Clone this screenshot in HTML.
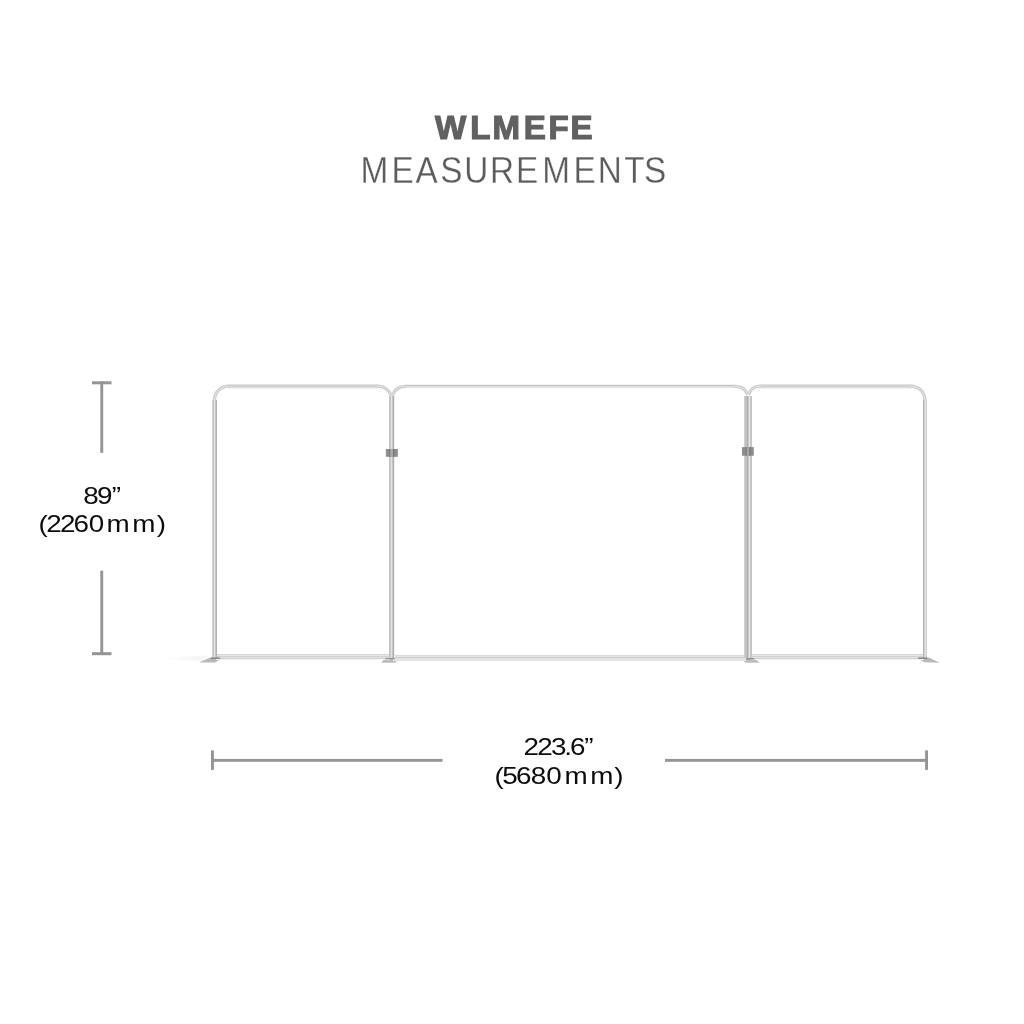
<!DOCTYPE html>
<html lang="en">
<head>
<meta charset="utf-8">
<title>WLMEFE Measurements</title>
<style>
  html, body { margin: 0; padding: 0; background: #ffffff; }
  body { width: 1024px; height: 1024px; overflow: hidden; position: relative; }
  svg { position: absolute; left: 0; top: 0; display: block; filter: grayscale(1); }
  .t { font-family: "Liberation Sans", sans-serif; }
</style>
</head>
<body>
<svg width="1024" height="1024" viewBox="0 0 1024 1024">
  <defs>
    <linearGradient id="shadowL" x1="0" y1="0" x2="1" y2="0">
      <stop offset="0" stop-color="#ffffff" stop-opacity="0"/>
      <stop offset="0.5" stop-color="#e9e9e9"/>
      <stop offset="1" stop-color="#dcdcdc"/>
    </linearGradient>
  </defs>
  <rect width="1024" height="1024" fill="#ffffff"/>

  <!-- TITLE -->
  <text class="t" id="t1" transform="scale(0.9939,1)" x="437.71 473.18 495.44 526.92 551.76 573.95" y="139.00" font-size="33.29" font-weight="700" fill="#616161" stroke="#616161" stroke-width="1.2" stroke-linejoin="miter">WLMEFE</text>
  <text class="t" id="t2" transform="scale(0.8956,1)" x="402.45 437.16 463.82 491.58 518.40 547.16 576.04 605.34 640.36 667.41 696.96 719.09" y="182.85" font-size="37.21" font-weight="400" fill="#5c5c5c" stroke="#ffffff" stroke-width="0.3">MEASUREMENTS</text>

  <!-- FRAMES -->
  <g id="frames" fill="none">
    <!-- soft floor shadow -->
    <path d="M158 657.5 L207 655.5 L204 661 L170 659.5 Z" fill="url(#shadowL)" opacity="0.3"/>
    <!-- feet -->
    <path d="M199 662.6 L210.8 657.2 L220.4 657.2 L220.4 659.4 L215 662.6 Z" fill="#b8b8b8"/>
    <path d="M381.3 662.8 L385 657.8 L398 657.8 L398 660.2 L395 662.8 Z" fill="#bcbcbc"/>
    <path d="M741.5 658 L754.8 658 L759.2 662.8 L745.2 662.8 Z" fill="#bcbcbc"/>
    <path d="M917.6 657.5 L928.8 657.5 L939.8 662.8 L924 662.3 Z" fill="#b8b8b8"/>
    <!-- horizontal bars -->
    <g shape-rendering="crispEdges">
      <rect x="228" y="384" width="150" height="1" fill="#e4e4e4"/><rect x="228" y="385" width="150" height="1" fill="#d2d2d2"/><rect x="228" y="386" width="150" height="1" fill="#d3d3d3"/><rect x="228" y="387" width="150" height="1" fill="#dedede"/><rect x="228" y="388" width="150" height="1" fill="#f1f1f1"/>
      <rect x="405" y="384" width="330" height="1" fill="#f4f4f4"/><rect x="405" y="385" width="330" height="1" fill="#c0c0c0"/><rect x="405" y="386" width="330" height="1" fill="#e4e4e4"/><rect x="405" y="387" width="330" height="1" fill="#e0e0e0"/>
      <rect x="761" y="384" width="150" height="1" fill="#e4e4e4"/><rect x="761" y="385" width="150" height="1" fill="#d2d2d2"/><rect x="761" y="386" width="150" height="1" fill="#d3d3d3"/><rect x="761" y="387" width="150" height="1" fill="#dedede"/><rect x="761" y="388" width="150" height="1" fill="#f1f1f1"/>
      <rect x="216" y="654" width="174" height="1" fill="#d6d6d6"/><rect x="216" y="655" width="174" height="1" fill="#e6e6e6"/><rect x="216" y="656" width="174" height="1" fill="#d0d0d0"/><rect x="216" y="657" width="174" height="1" fill="#e2e2e2"/><rect x="216" y="658" width="174" height="1" fill="#d2d2d2"/><rect x="216" y="659" width="174" height="1" fill="#f2f2f2"/>
      <rect x="393" y="655" width="353" height="1" fill="#dadada"/><rect x="393" y="656" width="353" height="1" fill="#e6e6e6"/><rect x="393" y="657" width="353" height="1" fill="#cccccc"/><rect x="393" y="658" width="353" height="1" fill="#e2e2e2"/><rect x="393" y="659" width="353" height="1" fill="#e4e4e4"/><rect x="393" y="660" width="353" height="1" fill="#e6e6e6"/>
      <rect x="751" y="654" width="173" height="1" fill="#d6d6d6"/><rect x="751" y="655" width="173" height="1" fill="#e6e6e6"/><rect x="751" y="656" width="173" height="1" fill="#d0d0d0"/><rect x="751" y="657" width="173" height="1" fill="#e2e2e2"/><rect x="751" y="658" width="173" height="1" fill="#d2d2d2"/><rect x="751" y="659" width="173" height="1" fill="#f2f2f2"/>
    </g>
    <!-- rounded corners -->
    <g stroke="#cdcdcd" stroke-width="3.3">
      <path d="M214.5 401 V400 A13.9 13.9 0 0 1 228.4 386.1 H229"/>
      <path d="M377 386.1 H378 Q388 386.4 391 395.8"/>
      <path d="M392.6 395.8 Q395.4 386.6 405 386.3 H406"/>
      <path d="M734 386.3 H736 Q744.8 386.6 747.7 395"/>
      <path d="M748.5 395 Q751.2 386.4 759.5 386.1 H762"/>
      <path d="M910 386.1 H911 A13.9 13.9 0 0 1 924.9 400 V401"/>
    </g>
    <g stroke="#e6e6e6" stroke-width="1">
      <path d="M214.5 401 V400 A13.9 13.9 0 0 1 228.4 386.1 H229"/>
      <path d="M377 386.1 H378 Q388 386.4 391 395.8"/>
      <path d="M392.6 395.8 Q395.4 386.6 405 386.3 H406"/>
      <path d="M734 386.3 H736 Q744.8 386.6 747.7 395"/>
      <path d="M748.5 395 Q751.2 386.4 759.5 386.1 H762"/>
      <path d="M910 386.1 H911 A13.9 13.9 0 0 1 924.9 400 V401"/>
    </g>
    <!-- posts -->
    <g shape-rendering="crispEdges">
      <rect x="212" y="400" width="1" height="257.6" fill="#d4d4d4"/><rect x="213" y="400" width="1" height="257.6" fill="#c4c4c4"/><rect x="214" y="400" width="1" height="257.6" fill="#e6e6e6"/><rect x="215" y="400" width="1" height="257.6" fill="#c4c4c4"/><rect x="216" y="400" width="1" height="257.6" fill="#b0b0b0"/>
      <rect x="389" y="395.5" width="1" height="262.7" fill="#c4c4c4"/><rect x="390" y="395.5" width="1" height="262.7" fill="#c8c8c8"/><rect x="391" y="395.5" width="1" height="262.7" fill="#e4e4e4"/><rect x="392" y="395.5" width="1" height="262.7" fill="#c4c4c4"/><rect x="393" y="395.5" width="1" height="262.7" fill="#b0b0b0"/><rect x="394" y="395.5" width="1" height="262.7" fill="#eeeeee"/>
      <rect x="744" y="395.5" width="1" height="262.7" fill="#d0d0d0"/><rect x="745" y="395.5" width="1" height="262.7" fill="#c2c2c2"/><rect x="746" y="395.5" width="1" height="262.7" fill="#c0c0c0"/><rect x="747" y="395.5" width="1" height="262.7" fill="#b0b0b0"/><rect x="748" y="395.5" width="1" height="262.7" fill="#cacaca"/><rect x="749" y="395.5" width="1" height="262.7" fill="#e8e8e8"/><rect x="750" y="395.5" width="1" height="262.7" fill="#c8c8c8"/><rect x="751" y="395.5" width="1" height="262.7" fill="#c4c4c4"/>
      <rect x="923" y="400" width="1" height="257.6" fill="#b4b4b4"/><rect x="924" y="400" width="1" height="257.6" fill="#cecece"/><rect x="925" y="400" width="1" height="257.6" fill="#e4e4e4"/><rect x="926" y="400" width="1" height="257.6" fill="#d0d0d0"/>
    </g>
    <!-- foot contact shadows -->
    <g fill="#858585">
      <rect x="211" y="657.6" width="9.2" height="1.5" rx="0.7"/>
      <rect x="385" y="657.9" width="10" height="1.4" rx="0.7" fill="#909090"/>
      <rect x="746" y="657.9" width="8.6" height="1.5" rx="0.7" fill="#909090"/>
      <rect x="918" y="657.4" width="9.4" height="1.5" rx="0.7"/>
    </g>
    <!-- clamps -->
    <rect x="385.9" y="449" width="12" height="7.8" fill="#8e8e8e"/>
    <rect x="389" y="449" width="1.2" height="7.8" fill="#787878"/>
    <rect x="390.2" y="449" width="2.8" height="7.8" fill="#a6a6a6"/>
    <rect x="393" y="449" width="1.2" height="7.8" fill="#747474"/>
    <rect x="742" y="447.1" width="11.8" height="8.6" fill="#8e8e8e"/>
    <rect x="745.6" y="447.1" width="1.2" height="8.6" fill="#787878"/>
    <rect x="746.8" y="447.1" width="2.6" height="8.6" fill="#a6a6a6"/>
    <rect x="749.4" y="447.1" width="1.2" height="8.6" fill="#747474"/>
  </g>

  <!-- DIMENSION LINES -->
  <g fill="#959595">
    <rect x="92" y="381.3" width="19.5" height="3"/>
    <rect x="100.3" y="381.3" width="2.9" height="71.6"/>
    <rect x="100.3" y="570.7" width="2.9" height="84"/>
    <rect x="92" y="652.2" width="19.5" height="3"/>

    <rect x="211" y="750.4" width="2.9" height="19.5"/>
    <rect x="211" y="758.9" width="231.5" height="2.9"/>
    <rect x="665" y="758.9" width="263" height="2.9"/>
    <rect x="925.1" y="750.4" width="2.9" height="19.5"/>
  </g>

  <!-- LABELS -->
  <g>
    <text class="t" id="l1" transform="scale(1.2000,1)" x="69.30 80.93 93.18" y="503.70" font-size="23.20" fill="#0c0c0c">89”</text>
    <text class="t" id="l2" transform="scale(1.2000,1)" x="32.19 38.51 49.92 61.34 73.92 88.71 110.29 130.71" y="532.00" font-size="23.20" fill="#0c0c0c">(2260mm)</text>
    <text class="t" id="l3" transform="scale(1.2000,1)" x="436.22 447.76 459.16 470.28 475.05 486.85" y="754.80" font-size="23.20" fill="#0c0c0c">223.6”</text>
    <text class="t" id="l4" transform="scale(1.2000,1)" x="412.03 418.53 430.09 442.30 455.17 470.33 491.79 511.96" y="783.80" font-size="23.20" fill="#0c0c0c">(5680mm)</text>
  </g>
</svg>
</body>
</html>
